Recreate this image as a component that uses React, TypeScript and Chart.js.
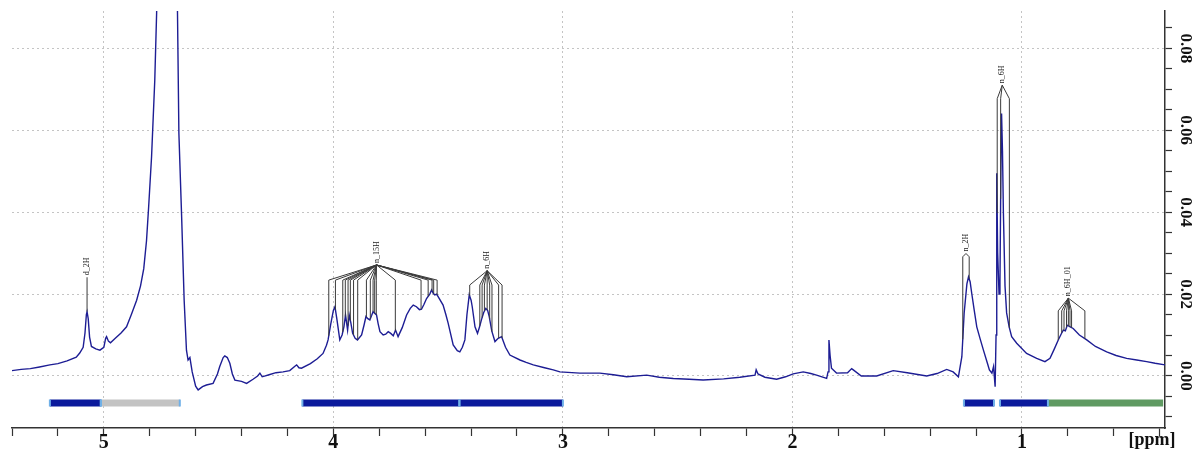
import React, { useEffect, useRef } from 'react';
import { Chart, registerables } from 'chart.js';

Chart.register(...registerables);

// Chemical shift (ppm) and intensity of the 1H NMR spectrum
const PPM = [
  5.402, 5.36, 5.32, 5.28, 5.235, 5.2, 5.16, 5.12, 5.105, 5.09, 5.082, 5.076, 5.073, 5.068, 5.062, 5.054,
  5.035, 5.017, 5.0, 4.992, 4.988, 4.98, 4.971, 4.95, 4.925, 4.901, 4.88, 4.857, 4.84, 4.826, 4.814, 4.805,
  4.792, 4.778, 4.77, 4.755, 4.73, 4.715, 4.7, 4.685, 4.679, 4.673, 4.661, 4.65, 4.64, 4.633, 4.625, 4.615,
  4.6, 4.589, 4.57, 4.553, 4.524, 4.505, 4.495, 4.48, 4.473, 4.462, 4.451, 4.44, 4.429, 4.4, 4.378, 4.35,
  4.33, 4.32, 4.31, 4.28, 4.25, 4.219, 4.19, 4.165, 4.16, 4.15, 4.139, 4.1, 4.07, 4.045, 4.03, 4.023,
  4.012, 4.0, 3.993, 3.985, 3.972, 3.962, 3.954, 3.947, 3.938, 3.931, 3.924, 3.916, 3.905, 3.895, 3.877, 3.866,
  3.858, 3.85, 3.841, 3.833, 3.827, 3.812, 3.805, 3.797, 3.783, 3.772, 3.761, 3.75, 3.739, 3.729, 3.718, 3.7,
  3.681, 3.665, 3.652, 3.638, 3.625, 3.616, 3.605, 3.594, 3.58, 3.572, 3.565, 3.558, 3.55, 3.543, 3.522, 3.51,
  3.5, 3.478, 3.46, 3.449, 3.438, 3.427, 3.418, 3.408, 3.4, 3.395, 3.383, 3.372, 3.363, 3.355, 3.345, 3.336,
  3.328, 3.321, 3.31, 3.296, 3.282, 3.267, 3.25, 3.231, 3.187, 3.16, 3.129, 3.08, 3.042, 3.013, 2.926, 2.839,
  2.78, 2.722, 2.635, 2.58, 2.519, 2.45, 2.389, 2.3, 2.229, 2.163, 2.158, 2.15, 2.12, 2.069, 2.03, 1.997,
  1.953, 1.92, 1.895, 1.851, 1.845, 1.841, 1.836, 1.83, 1.808, 1.76, 1.742, 1.735, 1.7, 1.633, 1.561, 1.5,
  1.415, 1.37, 1.328, 1.3, 1.277, 1.262, 1.252, 1.24, 1.233, 1.226, 1.219, 1.208, 1.197, 1.182, 1.168, 1.15,
  1.142, 1.131, 1.124, 1.117, 1.113, 1.11, 1.106, 1.1, 1.096, 1.092, 1.089, 1.085, 1.081, 1.074, 1.067, 1.056,
  1.045, 1.023, 0.98, 0.936, 0.9, 0.878, 0.86, 0.842, 0.827, 0.82, 0.811, 0.803, 0.79, 0.777, 0.75, 0.718,
  0.68, 0.631, 0.59, 0.544, 0.5, 0.457, 0.42, 0.377,
];

const INTENSITY = [
  0.0013, 0.0016, 0.0018, 0.0022, 0.0027, 0.003, 0.0037, 0.0046, 0.0056, 0.007, 0.0105, 0.015, 0.0157, 0.014, 0.0095, 0.0072,
  0.0066, 0.0063, 0.007, 0.0092, 0.0096, 0.0085, 0.0081, 0.0092, 0.0105, 0.012, 0.015, 0.0185, 0.022, 0.0262, 0.033, 0.041,
  0.0535, 0.0722, 0.0885, 0.13, 0.2, 0.22, 0.18, 0.12, 0.0885, 0.0593, 0.0389, 0.0185, 0.0063, 0.0039, 0.0045, 0.001,
  -0.0025, -0.0034, -0.0026, -0.0022, -0.0018, 0.0005, 0.0023, 0.0045, 0.0049, 0.0045, 0.0031, 0.0005, -0.001, -0.0013, -0.0018, -0.0008,
  0.0, 0.0007, -0.0002, 0.0003, 0.0008, 0.001, 0.0013, 0.0025, 0.0027, 0.002, 0.0019, 0.003, 0.0042, 0.0055, 0.0075, 0.0088,
  0.0125, 0.016, 0.0169, 0.014, 0.0088, 0.01, 0.012, 0.0149, 0.0112, 0.0149, 0.013, 0.0104, 0.0092, 0.0088, 0.01, 0.0125,
  0.0145, 0.014, 0.0137, 0.0148, 0.0157, 0.0149, 0.0128, 0.0108, 0.01, 0.0102, 0.0108, 0.0104, 0.0098, 0.0112, 0.0096, 0.0118,
  0.0149, 0.0165, 0.0173, 0.0169, 0.0162, 0.0163, 0.0175, 0.0189, 0.02, 0.021, 0.0202, 0.0198, 0.02, 0.0193, 0.0173, 0.015,
  0.0129, 0.0076, 0.0062, 0.0059, 0.007, 0.0088, 0.015, 0.0198, 0.0185, 0.0169, 0.012, 0.0104, 0.012, 0.0137, 0.0155, 0.0165,
  0.016, 0.0145, 0.011, 0.0084, 0.0092, 0.0096, 0.007, 0.0051, 0.0039, 0.0033, 0.0027, 0.002, 0.0015, 0.001, 0.0007, 0.0007,
  0.0003, -0.0002, 0.0002, -0.0003, -0.0006, -0.0008, -0.001, -0.0007, -0.0003, 0.0002, 0.0015, 0.0005, -0.0003, -0.0008, -0.0002, 0.0005,
  0.001, 0.0006, 0.0002, -0.0006, 0.001, 0.0088, 0.005, 0.0019, 0.0007, 0.0008, 0.0018, 0.0015, 0.0, 0.0, 0.0013, 0.0008,
  0.0, 0.0006, 0.0016, 0.001, -0.0002, 0.0047, 0.0153, 0.0225, 0.0242, 0.023, 0.0202, 0.016, 0.012, 0.009, 0.0063, 0.003,
  0.0015, 0.0007, 0.0023, -0.0026, 0.01, 0.0495, 0.03, 0.02, 0.023, 0.05, 0.0641, 0.055, 0.0398, 0.022, 0.0154, 0.012,
  0.0096, 0.008, 0.0055, 0.0043, 0.0035, 0.0043, 0.0065, 0.0088, 0.0105, 0.0112, 0.011, 0.0124, 0.012, 0.0116, 0.01, 0.0088,
  0.0072, 0.0059, 0.005, 0.0043, 0.0039, 0.0035, 0.0031, 0.0027,
];

// Integration regions
const BAR_Y = -0.0066;
const BAR_START = [5.235, 5.013, 4.135, 3.451, 1.253, 1.096, 0.887];
const BAR_END = [5.013, 4.669, 3.451, 3.0, 1.122, 0.887, 0.385];
const BAR_COLOR = ['#0b1a9c', '#c3c3c3', '#0b1a9c', '#0b1a9c', '#0b1a9c', '#0b1a9c', '#5f9a62'];

// Peak annotations
const PEAK_LABELS = ['d_2H', 'n_15H', 'n_6H', 'n_2H', 'n_6H', 'n_6H_01'];
const PEAK_APEX_PPM = [5.073, 3.812, 3.33, 1.244, 1.086, 0.798];
const PEAK_APEX_VAL = [0.0241, 0.0271, 0.0257, 0.0299, 0.071, 0.019];
const PEAK_FAN_VAL = [0.0241, 0.0234, 0.0222, 0.0291, 0.0677, 0.0159];
const PEAK_LINES = [
  [5.073],
  [4.02, 3.991, 3.959, 3.948, 3.936, 3.926, 3.912, 3.894, 3.856, 3.839, 3.827, 3.82, 3.813, 3.73, 3.618, 3.587, 3.57, 3.563, 3.548],
  [3.406, 3.362, 3.352, 3.342, 3.33, 3.319, 3.309, 3.28, 3.265],
  [1.258, 1.23],
  [1.108, 1.093, 1.055],
  [0.842, 0.827, 0.817, 0.806, 0.798, 0.791, 0.784, 0.726],
];

const X_MIN = 0.377;
const X_MAX = 5.4;
const Y_MIN = -0.0127;
const Y_MAX = 0.0891;
const X_MINOR_STEP = 0.2;
const Y_MINOR_STEP = 0.005;
const X_LABELS = [1, 2, 3, 4, 5];
const Y_LABELS = [0, 0.02, 0.04, 0.06, 0.08];

const SERIF = '"Liberation Serif", "Times New Roman", serif';

function spectrumAt(p: number): number {
  for (let i = 0; i < PPM.length - 1; i++) {
    if (PPM[i] >= p && PPM[i + 1] <= p) {
      const t = (PPM[i] - p) / (PPM[i] - PPM[i + 1]);
      return INTENSITY[i] + t * (INTENSITY[i + 1] - INTENSITY[i]);
    }
  }
  return 0;
}

const isNear = (v: number, list: number[]) => list.some((l) => Math.abs(v - l) < 1e-6);

const overlay = {
  id: 'overlay',
  afterDatasetsDraw(chart: any) {
    const { ctx, scales } = chart;
    const x = scales.x;
    const y = scales.y;
    ctx.save();
    // integration bar end caps
    ctx.fillStyle = '#6fb0e8';
    const by = y.getPixelForValue(BAR_Y);
    BAR_START.forEach((s, i) => {
      if (BAR_COLOR[i] === '#5f9a62') return;
      [s, BAR_END[i]].forEach((p) => {
        const px = x.getPixelForValue(p);
        ctx.fillRect(px - 1, by - 3.5, 2, 7);
      });
    });
    // peak annotations
    ctx.lineWidth = 1;
    ctx.strokeStyle = '#3a3a3a';
    PEAK_LABELS.forEach((lab, g) => {
      const ax = x.getPixelForValue(PEAK_APEX_PPM[g]);
      const ay = y.getPixelForValue(PEAK_APEX_VAL[g]);
      const fy = y.getPixelForValue(PEAK_FAN_VAL[g]);
      PEAK_LINES[g].forEach((p) => {
        const px = x.getPixelForValue(p);
        const sy = y.getPixelForValue(spectrumAt(p));
        ctx.beginPath();
        ctx.moveTo(ax, ay);
        ctx.lineTo(px, fy);
        ctx.lineTo(px, sy);
        ctx.stroke();
      });
      ctx.save();
      ctx.translate(ax, ay - 2);
      ctx.rotate(-Math.PI / 2);
      ctx.font = '8px ' + SERIF;
      ctx.fillStyle = '#222';
      ctx.textAlign = 'left';
      ctx.textBaseline = 'middle';
      ctx.fillText(lab, 0, 0);
      ctx.restore();
    });
    // y-axis labels (rotated)
    ctx.fillStyle = '#111';
    ctx.font = 'bold 17px ' + SERIF;
    Y_LABELS.forEach((v) => {
      ctx.save();
      ctx.translate(y.right - 10, y.getPixelForValue(v));
      ctx.rotate(Math.PI / 2);
      ctx.textAlign = 'center';
      ctx.textBaseline = 'middle';
      ctx.fillText(v.toFixed(2), 0, 0);
      ctx.restore();
    });
    // unit label
    ctx.font = 'bold 18px ' + SERIF;
    ctx.textAlign = 'center';
    ctx.textBaseline = 'middle';
    ctx.fillText('[ppm]', 1152, 440);
    ctx.restore();
  },
};

export default function App() {
  const canvasRef = useRef<HTMLCanvasElement | null>(null);

  useEffect(() => {
    document.body.style.margin = '0';
    const canvas = canvasRef.current;
    if (!canvas) return;

    const spectrum = PPM.map((p, i) => ({ x: p, y: INTENSITY[i] }));
    const barSets = BAR_START.map((s, i) => ({
      label: 'int' + i,
      data: [
        { x: s, y: BAR_Y },
        { x: BAR_END[i], y: BAR_Y },
      ],
      borderColor: BAR_COLOR[i],
      borderWidth: 7,
      borderCapStyle: 'butt' as const,
      pointRadius: 0,
      tension: 0,
    }));

    const xTicks: number[] = [];
    for (let k = 2; k <= 27; k++) xTicks.push(+(k * X_MINOR_STEP).toFixed(3));
    const yTicks: number[] = [];
    for (let k = -2; k <= 17; k++) yTicks.push(+(k * Y_MINOR_STEP).toFixed(4));

    const chart = new Chart(canvas, {
      type: 'line',
      data: {
        datasets: [
          {
            label: 'spectrum',
            data: spectrum,
            borderColor: '#1d1d94',
            borderWidth: 1.4,
            pointRadius: 0,
            tension: 0,
          },
          ...barSets,
        ],
      },
      options: {
        animation: false,
        responsive: false,
        devicePixelRatio: 1,
        parsing: false,
        layout: { padding: { left: 12, top: 11, right: 0, bottom: 0 } },
        plugins: { legend: { display: false }, tooltip: { enabled: false } },
        scales: {
          x: {
            type: 'linear',
            reverse: true,
            min: X_MIN,
            max: X_MAX,
            afterBuildTicks: (scale: any) => {
              scale.ticks = xTicks.map((v) => ({ value: v }));
            },
            afterFit: (scale: any) => {
              scale.height = 25;
            },
            ticks: {
              autoSkip: false,
              maxRotation: 0,
              padding: -5,
              color: '#111',
              font: { family: SERIF, size: 20, weight: 'bold' },
              callback: (v: any) => (isNear(Number(v), X_LABELS) ? String(Math.round(Number(v))) : ''),
            },
            grid: {
              color: (c: any) => (c.tick && isNear(c.tick.value, X_LABELS) ? '#c4c4c4' : 'transparent'),
              lineWidth: 1,
              tickColor: '#333',
              tickLength: 8,
              tickWidth: 1.2,
            },
            border: { display: true, color: '#333', width: 1.5, dash: [2, 3] },
          },
          y: {
            type: 'linear',
            position: 'right',
            min: Y_MIN,
            max: Y_MAX,
            afterBuildTicks: (scale: any) => {
              scale.ticks = yTicks.map((v) => ({ value: v }));
            },
            afterFit: (scale: any) => {
              scale.width = 30;
            },
            ticks: {
              padding: 0,
              callback: () => '',
            },
            grid: {
              color: (c: any) => (c.tick && isNear(c.tick.value, Y_LABELS) ? '#c4c4c4' : 'transparent'),
              lineWidth: 1,
              tickColor: '#333',
              tickLength: 7,
              tickWidth: 1.2,
            },
            border: { display: true, color: '#333', width: 1.5, dash: [2, 3] },
          },
        },
      },
      plugins: [overlay],
    } as any);

    return () => chart.destroy();
  }, []);

  return (
    <div style={{ width: 1195, height: 453 }}>
      <canvas ref={canvasRef} width={1195} height={453} style={{ display: 'block' }} />
    </div>
  );
}
